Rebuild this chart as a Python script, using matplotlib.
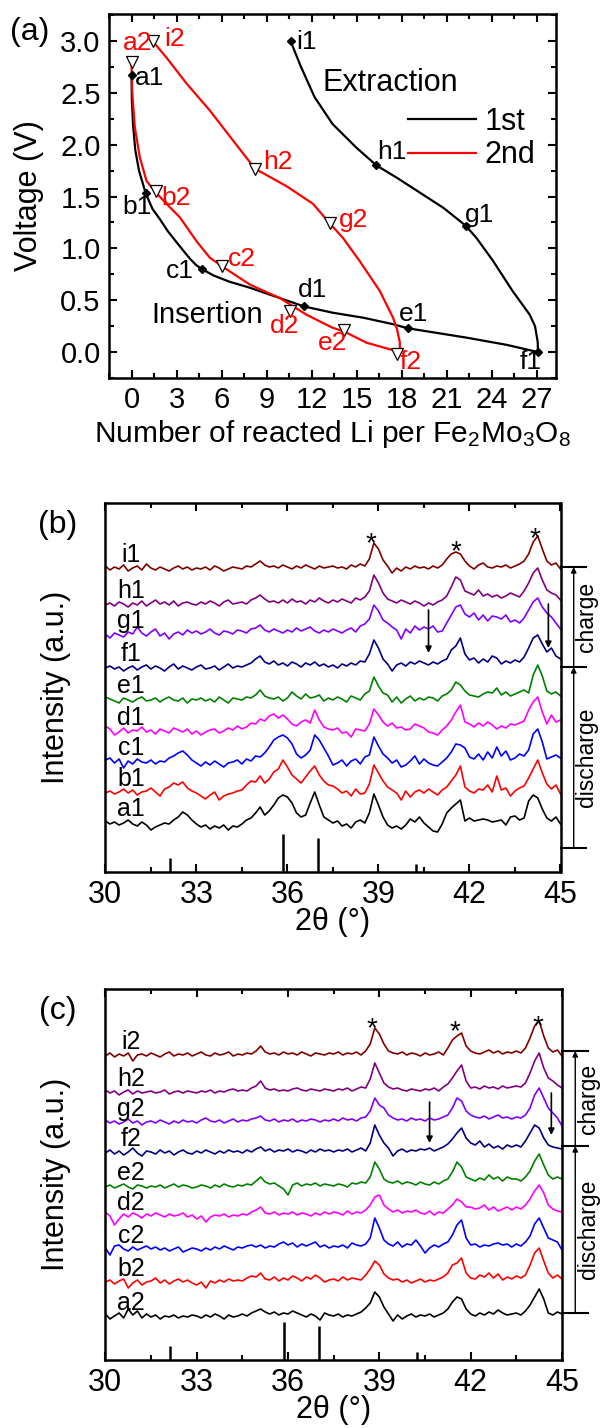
import numpy as np
import matplotlib
matplotlib.use('Agg')
import matplotlib.pyplot as plt
from matplotlib.ticker import MultipleLocator
from matplotlib.transforms import blended_transform_factory

plt.rcParams['font.family'] = ['Liberation Sans', 'DejaVu Sans']
plt.rcParams['mathtext.fontset'] = 'custom'
plt.rcParams['mathtext.rm'] = 'Liberation Sans'
plt.rcParams['mathtext.it'] = 'Liberation Sans:italic'

# ---------------- panel (a): voltage profiles ----------------
# 1st cycle, insertion (discharge)
li_1d = [0.0, 0.02, 0.1, 0.25, 0.5, 0.95, 1.4, 1.9, 2.4, 3.0, 3.5, 3.9, 4.3, 4.7,
         5.45, 6.5, 7.9, 9.9, 11.5, 13.4, 15.5, 17.4, 18.4, 22.3, 25.0, 27.1]
v_1d = [2.67, 2.45, 2.2, 1.95, 1.75, 1.53, 1.38, 1.28, 1.17, 1.06, 0.97, 0.90, 0.84, 0.80,
        0.74, 0.68, 0.62, 0.52, 0.44, 0.38, 0.33, 0.27, 0.23, 0.14, 0.07, 0.0]
# 1st cycle, extraction (charge)
li_1c = [27.1, 27.08, 26.9, 26.55, 25.4, 24.1, 23.0, 22.27, 20.8, 19.2, 17.7, 16.33, 15.0,
         13.4, 12.2, 11.3, 10.6]
v_1c = [0.0, 0.1, 0.25, 0.36, 0.59, 0.88, 1.10, 1.22, 1.39, 1.54, 1.68, 1.80, 1.97,
        2.2, 2.46, 2.75, 3.0]
# 2nd cycle, insertion
li_2d = [0.0, 0.05, 0.22, 0.55, 1.0, 1.62, 2.33, 3.22, 4.33, 5.22, 6.0, 7.9, 9.9,
         11.67, 13.4, 14.15, 15.67, 17.9]
v_2d = [2.80, 2.5, 2.17, 1.88, 1.65, 1.54, 1.43, 1.30, 1.07, 0.91, 0.83, 0.65, 0.52,
        0.36, 0.235, 0.20, 0.09, 0.0]
# 2nd cycle, extraction
li_2c = [17.9, 17.88, 17.7, 17.44, 16.55, 15.2, 14.1, 13.22, 12.1, 10.33, 8.22, 6.77, 5.22,
         3.67, 2.33, 1.4]
v_2c = [0.0, 0.1, 0.22, 0.33, 0.59, 0.88, 1.10, 1.24, 1.43, 1.60, 1.77, 2.04, 2.33,
        2.59, 2.84, 3.0]

# sampled states
pt_names1 = ['a1', 'b1', 'c1', 'd1', 'e1', 'f1', 'g1', 'h1', 'i1']
pt_li1 = [0.0, 0.95, 4.7, 11.5, 18.4, 27.1, 22.27, 16.33, 10.6]
pt_v1 = [2.67, 1.53, 0.80, 0.44, 0.23, 0.0, 1.22, 1.80, 3.0]
pt_names2 = ['a2', 'b2', 'c2', 'd2', 'e2', 'f2', 'g2', 'h2', 'i2']
pt_li2 = [0.0, 1.62, 6.0, 10.55, 14.15, 17.67, 13.22, 8.22, 1.4]
pt_v2 = [2.80, 1.55, 0.83, 0.40, 0.21, -0.02, 1.24, 1.77, 3.0]

# label anchors (left, centre) for the state names
lab_pos1 = [(0.22, 2.64), (-0.6, 1.40), (2.3, 0.78), (11.1, 0.60), (17.8, 0.37),
            (25.9, -0.10), (22.2, 1.32), (16.4, 1.93), (11.0, 2.99)]
lab_pos2 = [(-0.6, 2.98), (2.0, 1.49), (6.44, 0.90), (9.2, 0.25), (12.4, 0.09),
            (17.9, -0.10), (13.8, 1.27), (8.8, 1.83), (2.2, 3.02)]

# ---------------- panels (b), (c): XRD ----------------
two_theta = np.round(np.arange(30.0, 45.001, 0.15), 2)

xrd1_names = ['a1', 'b1', 'c1', 'd1', 'e1', 'f1', 'g1', 'h1', 'i1']
xrd1_colors = ['#000000', '#ff0000', '#0000ff', '#ff00ff', '#008000',
               '#000080', '#8000ff', '#800080', '#800000']
xrd1_offsets = [49, 79, 110, 140, 172, 204, 237, 267, 303]

a1 = [2, -1, 1, -2, 0, 3, -1, -3, 1, -2,
      -7, -4, -2, 0, -1, 3, 6, 11, 8, 3,
      -1, -4, -2, -6, -3, -5, -2, -7, -3, -4,
      -1, 3, 5, 10, 16, 8, 12, 18, 25, 28,
      26, 20, 10, 6, 8, 20, 31, 18, 6, 3,
      0, 2, -3, -1, -5, 1, 3, 0, 10, 29,
      18, 6, -2, -5, -3, -6, -2, 4, 1, 6,
      0, -4, -8, -9, -1, 10, 15, 19, 23, 2,
      5, 2, 3, 4, 3, 1, 2, 3, -2, 6,
      7, 3, 5, 22, 28, 25, 14, 5, 2, 6, -1]
b1 = [0, 2, -1, 1, 4, 0, 3, -2, 1, 2,
      5, 1, -3, 4, 6, 10, 8, 11, 5, 2,
      0, -3, -6, -2, 1, -7, -3, -1, 0, 2,
      3, 8, 12, 11, 17, 10, 14, 21, 24, 33,
      26, 18, 14, 10, 16, 22, 27, 18, 12, 8,
      7, 4, 0, 2, -3, 4, -1, 0, 9, 28,
      20, 12, 6, 3, 0, -7, 2, -4, 1, 3,
      0, 4, 1, -2, 3, 6, 12, 18, 27, 6,
      2, 0, 4, 3, 8, 1, 17, 3, 5, -3,
      2, 5, 7, 15, 24, 33, 20, 9, 4, 8, -1]
c1 = [2, 4, -1, 3, -6, 1, -2, 3, 0, -1,
      2, -2, 1, 0, 4, 6, 9, 11, 7, 2,
      -1, -4, 0, -3, 1, -2, -5, -1, 0, 2,
      -2, 3, 1, 6, 5, 9, 15, 22, 25, 27,
      24, 18, 8, 4, 7, 12, 27, 22, 14, 6,
      -3, -1, 2, -4, 1, 3, -2, 5, 7, 25,
      16, 8, 4, -1, 2, -5, -3, 1, 6, -2,
      3, -1, -3, -4, 0, 4, 10, 18, 17, 14,
      5, 3, 8, 2, 10, 4, 15, 6, 11, 2,
      4, 8, 6, 12, 28, 33, 20, 3, 5, 7, 4]
d1 = [6, 3, -3, 0, 4, -1, 2, 1, 5, 0,
      2, -2, 3, 1, -1, 4, 2, 0, 3, -2,
      1, -3, 0, 2, 3, -1, 1, 4, 2, 6,
      3, 5, 9, 8, 13, 11, 16, 18, 14, 17,
      13, 8, 6, 10, 12, 9, 22, 12, 5, 3,
      2, 4, -1, 0, -5, 3, 2, 1, 8, 23,
      17, 10, 6, 9, 4, 5, 2, 3, 8, 6,
      4, 0, -1, -3, 2, 6, 12, 20, 27, 10,
      8, 5, 9, 6, 10, 7, 3, 6, 4, 8,
      7, 9, 11, 22, 30, 35, 20, 8, 17, 10, 12]
e1 = [3, 1, -1, -3, 2, 0, -2, 1, 3, -1,
      0, 2, -2, 1, 3, 0, -1, 2, -3, 1,
      0, 2, -1, 1, -2, 3, 0, -3, 2, 1,
      0, 3, 2, 5, 10, 4, 2, 1, 3, -1,
      2, 8, 4, 1, 6, 2, 3, 5, -1, 2,
      0, 3, 1, -2, 4, 2, 0, 6, 9, 23,
      14, 7, 5, -2, 3, -3, 1, 4, -1, 2,
      0, 3, 2, -1, 4, 6, 10, 18, 15, 9,
      5, 4, 3, 6, 8, 7, 12, 5, 8, 4,
      6, 8, 10, 7, 25, 35, 24, 9, 6, 8, 4]
f1 = [0, 2, -1, 1, -3, 0, 2, -2, 1, 3,
      -1, 2, 0, -3, 1, 4, -1, 2, 0, -2,
      1, 3, -1, 0, 2, -2, 1, 4, 0, 2,
      1, 3, 5, 9, 12, 6, 4, 7, 3, 5,
      2, 6, 4, 1, 5, 3, 6, 2, 4, 1,
      3, 0, 4, 2, 5, 3, 7, 6, 14, 28,
      20, 9, 4, -3, 3, 5, 2, 6, 4, 7,
      5, 3, 6, 4, 7, 9, 18, 22, 30, 14,
      8, 10, 5, 9, 6, 12, 10, 4, 7, 5,
      8, 6, 11, 20, 30, 33, 24, 16, 20, 12, 9]
g1 = [1, -3, 2, 0, -2, 3, 1, 8, 2, -1,
      3, 6, -1, 2, -4, 1, 3, 0, 5, 2,
      4, 1, 3, 6, 2, 0, 4, 3, 1, 5,
      4, 2, 6, 7, 10, 5, 3, 6, 4, 2,
      5, 3, 7, 4, 6, 8, 4, 2, 5, 3,
      6, 4, 2, 5, 7, 3, 9, 11, 16, 30,
      24, 15, 12, 8, 5, -4, 6, 2, 9, 5,
      8, 6, 9, 3, 4, 12, 20, 28, 30, 21,
      18, 22, 15, 20, 14, 19, 18, 16, 20, 13,
      15, 12, 17, 25, 33, 37, 28, 22, 18, 12, 6]
h1 = [0, 2, -1, 3, 1, -2, 2, 0, 4, -1,
      2, 5, 1, 3, 0, 4, -1, 2, 3, 1,
      0, 3, 1, 4, 2, -1, 3, 5, 1, 2,
      3, 1, 5, 7, 10, 6, 3, 4, 2, 5,
      2, 6, 3, 4, 1, 5, 3, 7, 4, 2,
      5, 3, 6, 4, 2, 7, 5, 8, 14, 30,
      22, 12, 6, 4, 2, 5, 3, 1, 4, 2,
      -1, 2, 0, 3, 5, 9, 18, 28, 25, 14,
      12, 10, 15, 9, 11, 8, 10, 7, 9, 12,
      10, 8, 14, 22, 32, 37, 25, 15, 12, 10, 5]
i1 = [3, -1, 2, 0, 4, -2, 1, 3, -1, 5,
      1, -1, 2, 0, -2, 1, 3, 0, 2, -1,
      1, 0, 2, -1, 3, 1, -2, 0, 2, 1,
      0, 3, 2, 5, 8, 4, 2, 3, 1, 4,
      2, 0, 3, 1, 4, 2, 0, 3, 1, 2,
      3, 1, 2, 0, 4, 2, 5, 3, 10, 26,
      20, 9, 3, -4, 1, -2, 2, 0, 3, 1,
      2, 0, 3, 1, 4, 10, 15, 17, 15, 8,
      3, 0, 4, 6, 2, 1, 3, 2, 4, 1,
      3, 5, 8, 15, 27, 33, 20, 8, 4, 6, 0]

xrd2_names = ['a2', 'b2', 'c2', 'd2', 'e2', 'f2', 'g2', 'h2', 'i2']
xrd2_colors = xrd1_colors
xrd2_offsets = [43, 77, 110, 143, 173, 207, 237, 267, 304]

a2 = [3, -2, 1, 4, -1, 8, 2, 6, -1, 3,
      0, 2, -2, 1, 0, 2, -1, 1, 0, 2,
      1, -1, 2, 0, 3, 1, -2, 2, 0, 1,
      3, 1, 4, 6, 8, 5, 3, 5, 2, 4,
      3, 6, 4, 2, 0, 3, 1, -3, 4, 2,
      1, 3, 0, 2, 1, 3, 5, 9, 14, 25,
      20, 10, 3, -4, 2, -2, 1, 3, 0, 2,
      1, 3, 0, 2, 4, 8, 15, 20, 18, 8,
      3, 1, 4, 2, 5, 3, 7, 4, 2, 3,
      4, 2, 6, 12, 20, 28, 18, 4, 2, 5, 3]
b2 = [1, 3, -1, 2, 4, -5, 0, 3, -2, 1,
      2, 5, 0, 3, -1, 2, 4, 1, 3, 0,
      -2, 1, -5, 2, 0, 3, 1, 4, 2, 3,
      2, 5, 7, 6, 10, 4, 3, 6, 2, 5,
      3, 7, 5, 2, 6, 4, 8, 5, 1, 3,
      4, 2, 6, 3, 5, 4, 3, 8, 14, 22,
      18, 9, 5, 3, 4, 1, 3, 0, 2, 4,
      1, 3, 2, 4, 6, 10, 18, 20, 25, 10,
      5, 4, 8, 6, 10, 5, 9, 3, 6, 4,
      7, 5, 8, 18, 30, 35, 22, 10, 5, 8, 4]
c2 = [2, -5, 4, 5, 1, -1, 3, 0, 2, 4,
      1, 3, 0, 2, -1, 1, 3, -2, 0, 2,
      1, -1, 2, 0, 3, 1, 4, 2, 0, 3,
      2, 4, 5, 3, 5, 2, 4, 3, 6, 8,
      5, 7, 3, 6, 4, 6, 8, 3, 5, 2,
      4, 3, 5, 2, 7, 5, 4, 6, 12, 32,
      22, 10, 6, 4, 8, 3, 6, 5, 10, 4,
      -3, 2, 5, 3, 6, 8, 15, 25, 30, 12,
      5, 6, 3, 5, 4, 6, 7, 5, 6, 3,
      6, 4, 8, 14, 26, 32, 22, 12, 10, 8, 0]
d2 = [5, 1, -8, -2, 3, 0, 4, 2, -1, 3,
      1, 4, 2, 0, 3, 1, 2, 4, 0, 2,
      -2, 1, -5, 0, 2, 1, 3, 0, 2, 1,
      3, 2, 5, 7, 10, 4, 3, 5, 2, 4,
      3, 5, 2, 4, 3, 1, 4, 2, 5, 3,
      5, 4, 2, 6, 3, 5, 4, 7, 12, 20,
      22, 12, 8, 5, 7, 4, 6, 5, 7, 4,
      3, 6, 2, 5, 4, 8, 12, 18, 15, 10,
      10, 8, 9, 12, 7, 10, 6, 8, 10, 7,
      10, 8, 12, 18, 26, 32, 24, 12, 8, 6, 5]
e2 = [0, 2, -1, 1, 3, 0, -2, 2, 1, -1,
      1, 0, 2, -1, 1, 3, 0, 2, 1, -1,
      0, 2, 1, -1, 2, 0, 3, 1, 0, 2,
      1, 3, 2, 6, 10, 5, 3, 4, 1, -2,
      -8, 2, 4, 1, 3, 2, 4, 1, 3, 2,
      1, 3, 2, 0, 4, 3, 5, 4, 10, 25,
      18, 8, 5, 4, 6, 3, 5, 4, 2, 5,
      3, 2, 5, 3, 6, 8, 15, 25, 20, 10,
      8, 6, 9, 7, 12, 8, 10, 6, 10, 8,
      8, 6, 10, 16, 26, 33, 22, 12, 8, 10, 8]
f2 = [0, 3, -1, 2, -2, 1, 5, 0, -3, 2,
      1, -1, 3, 0, 2, -2, 1, 3, 0, -1,
      2, 0, 3, 1, -1, 2, 0, 3, 1, 2,
      0, 3, 1, 4, 6, 2, 4, 1, 3, 2,
      4, 1, 3, 2, 0, 3, 1, 4, 2, 3,
      1, 3, 2, 4, 1, 3, 5, 2, 10, 28,
      18, 10, 5, -3, 2, 4, 1, 3, 2, 4,
      3, 5, 2, 4, 6, 9, 14, 20, 25, 15,
      10, 8, 12, 6, 9, 5, 7, 4, 8, 6,
      8, 6, 12, 20, 28, 25, 15, 8, 6, 5, 4]
g2 = [3, 0, 2, -1, 1, 4, 0, 2, -2, 1,
      2, 0, 3, 1, -1, 2, 0, 3, 1, 2,
      0, 3, 5, 2, 1, 3, 0, 2, 4, 1,
      3, 2, 4, 5, 7, 3, 2, 4, 1, 3,
      2, 4, 1, 3, 2, 4, 3, 1, 3, 2,
      4, 2, 5, 3, 4, 2, 5, 6, 12, 25,
      18, 15, 8, 5, 3, 4, 2, 5, 3, 4,
      2, 5, 3, 4, 6, 8, 15, 25, 22, 12,
      8, 6, 5, 7, 4, 6, 8, 5, 6, 4,
      6, 5, 8, 15, 28, 35, 25, 15, 10, 5, -3]
h2 = [3, 0, 2, -2, 1, 3, -1, 2, 0, 1,
      2, 0, 1, 3, -1, 1, 2, 0, 2, 1,
      0, 2, 1, 3, 0, 2, 1, 3, 4, 2,
      3, 2, 5, 7, 12, 5, 3, 4, 2, 3,
      2, 4, 5, 3, 2, 4, 3, 2, 4, 3,
      2, 4, 3, 5, 2, 4, 6, 5, 14, 30,
      20, 10, 6, 4, 5, 3, 2, 4, 3, 2,
      4, 3, 5, 2, 6, 9, 15, 22, 28, 12,
      5, 6, 4, 7, 5, 6, 4, 7, 5, 6,
      7, 6, 10, 20, 32, 40, 25, 15, 12, 8, 5]
i2 = [0, 3, -1, 2, 0, 3, -5, 1, 2, 0,
      3, 1, -1, 2, 4, 0, 2, 1, 3, 0,
      2, 4, 1, 0, 3, 1, 2, 4, 0, 2,
      1, 3, 2, 5, 10, 4, 2, 3, 1, 4,
      2, 3, 1, 4, 2, 0, 3, 2, 1, 3,
      2, 4, 1, 3, 2, 4, 1, 5, 12, 28,
      22, 12, 5, 3, 2, 4, 1, 3, 2, 0,
      3, 1, 2, 4, 1, 8, 16, 20, 23, 10,
      5, 3, 2, 4, 6, 3, 5, 2, 4, 3,
      5, 3, 8, 18, 30, 35, 20, 8, 4, 6, 0]

xrd1 = [a1, b1, c1, d1, e1, f1, g1, h1, i1]
xrd2 = [a2, b2, c2, d2, e2, f2, g2, h2, i2]

# reference pattern (stick positions / heights)
ref_pos = [32.13, 35.86, 37.02, 40.24]
ref_h = [14, 38, 34, 8]

star_pos1 = [38.75, 41.55, 44.16]
star_pos2 = [38.75, 41.47, 44.2]
star_y1 = [321, 313, 326]
star_y2 = [324, 321, 326]

# ---------------- figure ----------------
fig = plt.figure(figsize=(6.01, 14.28), dpi=100)
W, H = 601.0, 1428.0


def add_axes_px(x0, x1, y0, y1):
    return fig.add_axes([x0 / W, 1 - y1 / H, (x1 - x0) / W, (y1 - y0) / H])


def style_axes(ax, fs):
    for sp in ax.spines.values():
        sp.set_linewidth(1.8)
    ax.tick_params(which='both', direction='in', top=True, right=True,
                   labelsize=fs, width=1.5, pad=6)
    ax.tick_params(which='major', length=6)
    ax.tick_params(which='minor', length=3.5)


ax = add_axes_px(109, 556, 14, 378)
ax.plot(li_1d, v_1d, color='k', lw=1.6)
ax.plot(li_1c, v_1c, color='k', lw=1.6, label='1st')
ax.plot(li_2d, v_2d, color='#ff0000', lw=1.6)
ax.plot(li_2c, v_2c, color='#ff0000', lw=1.6, label='2nd')
ax.plot(pt_li1, pt_v1, 'D', color='k', ms=4.5, ls='none')
ax.plot(pt_li2, pt_v2, 'v', mfc='white', mec='k', mew=0.9, ms=9, ls='none')
for n, (x, y) in zip(pt_names1, lab_pos1):
    ax.text(x, y, n, color='k', fontsize=19, ha='left', va='center')
for n, (x, y) in zip(pt_names2, lab_pos2):
    ax.text(x, y, n, color='#ff0000', fontsize=19, ha='left', va='center')
ax.text(12.75, 2.59, 'Extraction', fontsize=22, ha='left', va='center')
ax.text(1.3, 0.36, 'Insertion', fontsize=21, ha='left', va='center')
ax.set_xlim(-1.5, 28.3)
ax.set_ylim(-0.25, 3.26)
ax.xaxis.set_major_locator(MultipleLocator(3))
ax.xaxis.set_minor_locator(MultipleLocator(1.5))
ax.yaxis.set_major_locator(MultipleLocator(0.5))
ax.yaxis.set_minor_locator(MultipleLocator(0.25))
style_axes(ax, 21)
ax.set_xlabel('Number of reacted Li per Fe$_2$Mo$_3$O$_8$', fontsize=21.5)
ax.set_ylabel('Voltage (V)', fontsize=22)
ax.xaxis.set_label_coords(0.5, -0.11)
ax.yaxis.set_label_coords(-0.145, 0.5)
ax.legend(loc='upper left', bbox_to_anchor=(0.67, 0.745), frameon=False,
          fontsize=22, handlelength=2.2, handletextpad=0.3, labelspacing=0.12,
          borderpad=0, borderaxespad=0)
fig.text(30 / W, 1 - 32 / H, '(a)', fontsize=23, ha='center', va='center')


def xrd_panel(ax, data, names, colors, offsets, stars_x, stars_y, levels, arrows, ymax):
    for y, n, c, off in zip(data, names, colors, offsets):
        ax.plot(two_theta, np.array(y) + off, color=c, lw=1.2)
        ax.text(30.85, off + 14, n, fontsize=18, ha='center', va='center')
    ax.vlines(ref_pos, 0, ref_h, color='k', lw=1.8)
    for sx, sy in zip(stars_x, stars_y):
        ax.text(sx, sy, '*', fontsize=20, ha='center', va='baseline')
    for ax_x, y0, y1 in arrows:
        ax.annotate('', xy=(ax_x, y1), xytext=(ax_x, y0),
                    arrowprops=dict(arrowstyle='-|>', color='k', lw=1.2,
                                    mutation_scale=9, shrinkA=0, shrinkB=0))
    ax.set_xlim(30, 45)
    ax.set_ylim(0, ymax)
    ax.xaxis.set_major_locator(MultipleLocator(3))
    ax.xaxis.set_minor_locator(MultipleLocator(1.5))
    ax.set_yticks([])
    style_axes(ax, 22)
    ax.tick_params(which='both', left=False, right=False)
    ax.set_xlabel('2θ (°)', fontsize=22)
    ax.set_ylabel('Intensity (a.u.)', fontsize=22)
    ax.xaxis.set_label_coords(0.5, -0.095)
    ax.yaxis.set_label_coords(-0.075, 0.5)
    # charge / discharge bracket
    tr = blended_transform_factory(ax.transAxes, ax.transData)
    top, mid, bot = levels
    for lv in levels:
        ax.plot([1.0, 1.057], [lv, lv], color='k', lw=1.5, transform=tr, clip_on=False)
    for y0, y1 in [(mid, top), (bot, mid)]:
        ax.annotate('', xy=(1.029, y1), xytext=(1.029, y0), xycoords=tr, textcoords=tr,
                    arrowprops=dict(arrowstyle='-|>', color='k', lw=1.0,
                                    mutation_scale=8, shrinkA=0, shrinkB=0))
    ax.text(1.057, (top + mid) / 2, 'charge', transform=tr, rotation=90,
            fontsize=16.5, ha='center', va='center')
    ax.text(1.057, (mid + bot) / 2, 'discharge', transform=tr, rotation=90,
            fontsize=16.5, ha='center', va='center')


axb = add_axes_px(105.4, 560.5, 503, 872)
xrd_panel(axb, xrd1, xrd1_names, xrd1_colors, xrd1_offsets, star_pos1, star_y1,
          (305, 205, 24), [(40.65, 262, 219), (44.6, 268, 224)], 369)
fig.text(58 / W, 1 - 525 / H, '(b)', fontsize=23, ha='center', va='center')

axc = add_axes_px(105.4, 562, 989, 1360)
xrd_panel(axc, xrd2, xrd2_names, xrd2_colors, xrd2_offsets, star_pos2, star_y2,
          (309, 214, 47), [(40.65, 258, 217), (44.65, 267, 225)], 371)
fig.text(58 / W, 1 - 1011 / H, '(c)', fontsize=23, ha='center', va='center')

fig.savefig('out.png', dpi=100)
